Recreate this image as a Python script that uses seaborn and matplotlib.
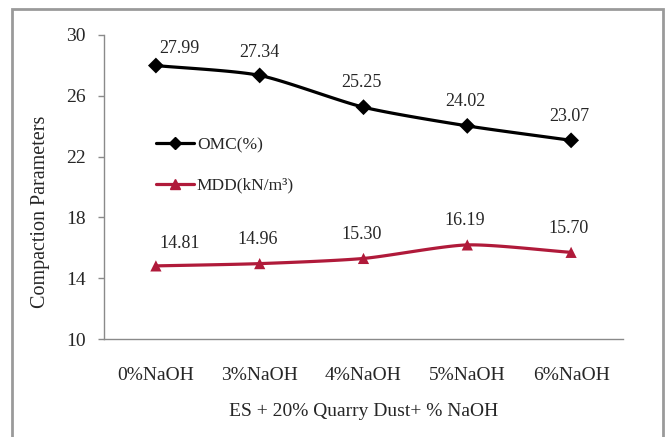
import numpy as np
import pandas as pd
import matplotlib
matplotlib.use("Agg")
import matplotlib.pyplot as plt
from matplotlib.patches import Rectangle
from matplotlib.lines import Line2D
import seaborn as sns

# Compaction test results for ES + 20% quarry dust with NaOH
categories = ["0%NaOH", "3%NaOH", "4%NaOH", "5%NaOH", "6%NaOH"]
omc = [27.99, 27.34, 25.25, 24.02, 23.07]
mdd = [14.81, 14.96, 15.30, 16.19, 15.70]
omc_labels = ["27.99", "27.34", "25.25", "24.02", "23.07"]
mdd_labels = ["14.81", "14.96", "15.30", "16.19", "15.70"]
yticks = [10, 14, 18, 22, 26, 30]

sns.set_theme(style="white")
plt.rcParams["font.family"] = ["Liberation Serif", "DejaVu Serif"]

TXT = "#262626"
OMC_C = "#000000"
MDD_C = "#b01a3a"


def smooth(xs, ys, n=30):
    """Catmull-Rom style smoothing for the connecting curve."""
    xs = np.asarray(xs, float)
    ys = np.asarray(ys, float)
    px = np.concatenate([[2 * xs[0] - xs[1]], xs, [2 * xs[-1] - xs[-2]]])
    py = np.concatenate([[2 * ys[0] - ys[1]], ys, [2 * ys[-1] - ys[-2]]])
    ox, oy = [], []
    for i in range(1, len(px) - 2):
        t = np.linspace(0, 1, n, endpoint=(i == len(px) - 3))
        for arr, out in ((px, ox), (py, oy)):
            p0, p1, p2, p3 = arr[i - 1], arr[i], arr[i + 1], arr[i + 2]
            m1 = (p2 - p0) / 2 * 0.7
            m2 = (p3 - p1) / 2 * 0.7
            h00 = 2 * t**3 - 3 * t**2 + 1
            h10 = t**3 - 2 * t**2 + t
            h01 = -2 * t**3 + 3 * t**2
            h11 = t**3 - t**2
            out.extend(h00 * p1 + h10 * m1 + h01 * p2 + h11 * m2)
    return np.array(ox), np.array(oy)


fig = plt.figure(figsize=(6.7, 4.37), dpi=100)
ax = fig.add_axes([104 / 670, 1 - 339 / 437, (623 - 104) / 670, (339 - 35) / 437])

x = np.arange(len(categories))
pts = pd.DataFrame({
    "pos": np.concatenate([x, x]),
    "value": omc + mdd,
    "series": ["OMC(%)"] * len(x) + ["MDD(kN/m³)"] * len(x),
})

for vals, col in ((omc, OMC_C), (mdd, MDD_C)):
    sx, sy = smooth(x, vals)
    ax.plot(sx, sy, color=col, lw=2.3, zorder=2, solid_capstyle="round")

sns.scatterplot(data=pts, x="pos", y="value", hue="series", style="series",
                markers={"OMC(%)": "D", "MDD(kN/m³)": "^"},
                palette={"OMC(%)": OMC_C, "MDD(kN/m³)": MDD_C},
                s=65, edgecolor="none", legend=False, ax=ax, zorder=3)

# value labels (offsets in points from each marker)
offs_omc = [(17, 12), (0, 16.5), (-1.5, 17.5), (-1.5, 17.5), (-1.5, 17)]
offs_mdd = [(17, 16), (-1.5, 17.5), (-1.5, 17.5), (-1.5, 17.5), (-1.5, 17)]
for i in range(len(x)):
    ax.annotate(omc_labels[i], (x[i], omc[i]), xytext=offs_omc[i],
                textcoords="offset points", ha="center", va="center",
                fontsize=13, color=TXT)
    ax.annotate(mdd_labels[i], (x[i], mdd[i]), xytext=offs_mdd[i],
                textcoords="offset points", ha="center", va="center",
                fontsize=13, color=TXT)

ax.set_xlim(-0.5, len(categories) - 0.5)
ax.set_ylim(10, 30)
ax.set_yticks(yticks)
ax.set_yticklabels([str(v) for v in yticks], fontsize=14, color=TXT)
ax.set_xticks(x)
ax.set_xticklabels(categories, fontsize=14, color=TXT)
ax.set_xticks(np.arange(len(categories) + 1) - 0.5, minor=True)
ax.tick_params(axis="x", which="major", length=0, pad=20)
ax.tick_params(axis="x", which="minor", length=5, width=1, color="#8a8a8a",
               direction="out")
ax.tick_params(axis="y", length=4, width=1, color="#8a8a8a", direction="out",
               pad=9, left=True)

for s in ("top", "right"):
    ax.spines[s].set_visible(False)
for s in ("left", "bottom"):
    ax.spines[s].set_color("#8a8a8a")
    ax.spines[s].set_linewidth(1.0)

ax.set_xlabel("ES + 20% Quarry Dust+ % NaOH", fontsize=14, color=TXT)
ax.xaxis.set_label_coords(0.5, -0.21)
ax.set_ylabel("Compaction Parameters", fontsize=14.5, color=TXT)
ax.yaxis.set_label_coords(-0.105, 0.42)

handles = [
    Line2D([], [], color=OMC_C, lw=2.3, marker="D", markersize=6.5),
    Line2D([], [], color=MDD_C, lw=2.3, marker="^", markersize=7.5),
]
leg = ax.legend(handles, ["OMC(%)", "MDD(kN/m³)"], loc="upper left",
                bbox_to_anchor=(0.07, 0.715), frameon=False, fontsize=12.5,
                handlelength=2.2, handletextpad=0.15, labelspacing=1.4,
                labelcolor=TXT)

# outer chart frame
fig.patches.append(Rectangle((12 / 670, -0.02), (663 - 12) / 670, 1 - 9 / 437 + 0.02,
                             transform=fig.transFigure, fill=False,
                             edgecolor="#9a9a9a", lw=2.0))

fig.savefig("out.png", dpi=100)
